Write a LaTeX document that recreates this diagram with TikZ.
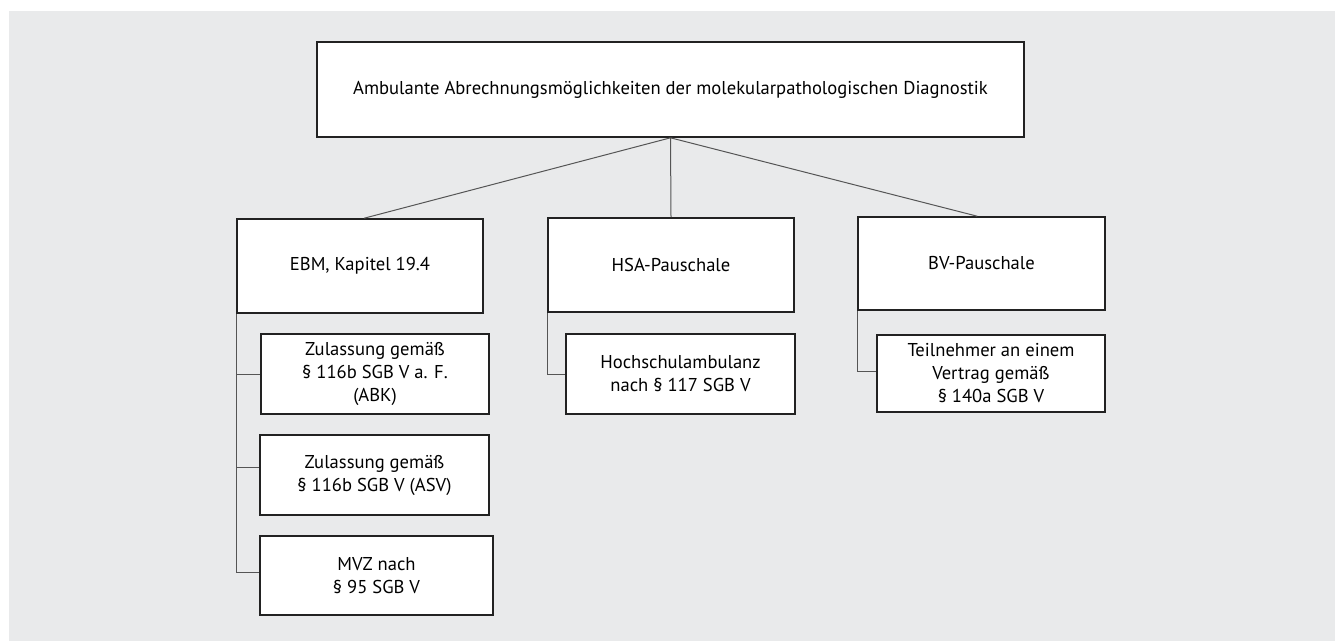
\documentclass[tikz,border=0pt]{standalone}
\usepackage{fontspec}
\setmainfont{PT Sans}
\usetikzlibrary{calc}
\definecolor{panel}{RGB}{233,234,235}
\definecolor{boxline}{RGB}{34,34,34}
\definecolor{conn}{RGB}{85,85,85}
\begin{document}
\begin{tikzpicture}[x=1pt,y=-1pt,
  box/.style={draw=boxline,fill=white,line width=1.6pt,inner sep=0pt,align=center,
    font=\fontsize{18.6}{23}\selectfont,text=black},
  conline/.style={draw=conn,line width=1pt}]
\useasboundingbox (0,0) rectangle (1335,641);
\fill[panel] (9,11) rectangle (1335,641);
% main
\node[box,minimum width=707pt,minimum height=95pt] (top) at (670.5,89.5) {Ambulante Abrechnungsmöglichkeiten der molekularpathologischen Diagnostik};
% level 2
\node[box,minimum width=246pt,minimum height=94pt] (ebm) at (360,266) {EBM, Kapitel 19.4};
\node[box,minimum width=246pt,minimum height=94pt] (hsa) at (671,265) {HSA-Pauschale};
\node[box,minimum width=247pt,minimum height=93pt] (bv) at (981.5,263.5) {BV-Pauschale};
% level 3
\node[box,minimum width=228pt,minimum height=80pt] (z1) at (375,374) {Zulassung gemäß\\§ 116b SGB V a. F.\\(ABK)};
\node[box,minimum width=229pt,minimum height=80pt] (z2) at (374.5,475) {Zulassung gemäß\\§ 116b SGB V (ASV)};
\node[box,minimum width=233pt,minimum height=79pt] (mvz) at (376.5,575.5) {MVZ nach\\§ 95 SGB V};
\node[box,minimum width=229pt,minimum height=80pt] (hoch) at (680.5,374) {Hochschulambulanz\\nach § 117 SGB V};
\node[box,minimum width=228pt,minimum height=77pt] (teil) at (991,373.5) {Teilnehmer an einem\\Vertrag gemäß\\§ 140a SGB V};
% connectors
\draw[conline] (top.south) -- ([xshift=128pt]ebm.north west);
\draw[conline] (top.south) -- (hsa.north);
\draw[conline] (top.south) -- ([xshift=120pt]bv.north west);
\draw[conline] (ebm.south west) |- (z1.west);
\draw[conline] (ebm.south west) |- ([yshift=8pt]z2.west);
\draw[conline] (ebm.south west) |- ([yshift=3.5pt]mvz.west);
\draw[conline] (hsa.south west) |- (hoch.west);
\draw[conline] (bv.south west) |- ([yshift=2.5pt]teil.west);
\end{tikzpicture}
\end{document}
